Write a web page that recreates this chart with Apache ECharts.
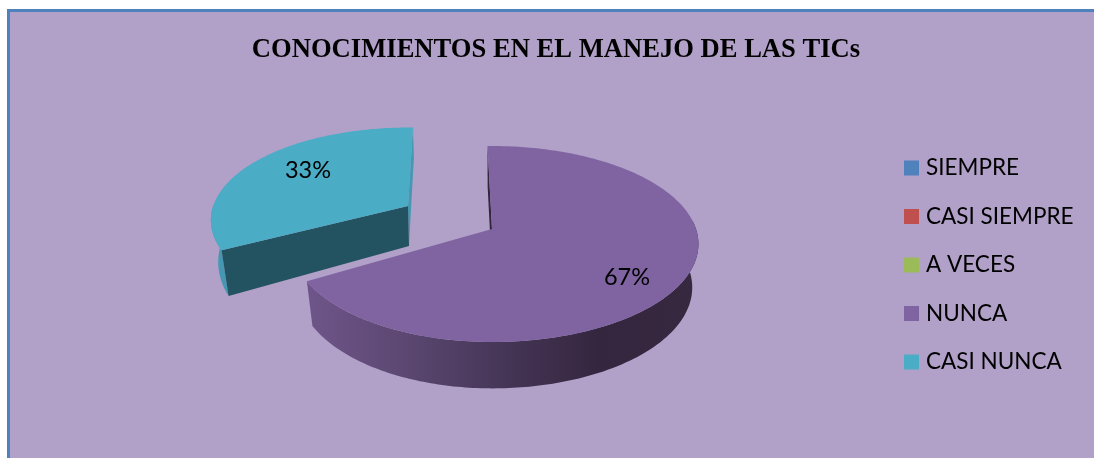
<!DOCTYPE html>
<html><head><meta charset="utf-8">
<style>html,body{margin:0;padding:0;background:#fff}#c{width:1094px;height:458px}</style>
<script src="https://cdn.jsdelivr.net/npm/echarts@6/dist/echarts.min.js"></script>
</head><body><div id="c"></div>
<script>
const categories = ['SIEMPRE','CASI SIEMPRE','A VECES','NUNCA','CASI NUNCA'];
const values = [0,0,0,67,33];
const colors = ['#4F81BD','#C0504D','#9BBB59','#8064A2','#4BACC6'];
const titleText = 'CONOCIMIENTOS EN EL MANEJO DE LAS TICs';

const total = values.reduce((a,b)=>a+b,0);
const P = 0.153, F = 204, G = 95.7;
const layouts = {
  'NUNCA': {ax:492, ay:229, s:1, tsx:1, left:.97, rot:-1.5, bx:492, by:272, bsx:.97, bsy:1.03, from:85, lab:[627,277],
    inner:'#35263F',
    outer:new echarts.graphic.LinearGradient(311,0,690,0,[
      {offset:0,color:'#6E5589'},{offset:.24,color:'#5C4872'},{offset:.5,color:'#463657'},
      {offset:.76,color:'#35263F'},{offset:1,color:'#36283F'}],true)},
  'CASI NUNCA': {ax:408, ay:206, s:.945, tsx:.955, left:1, rot:1.7, bx:409, by:246, bsx:.945*.978, bsy:.945*1.13, to:272, lab:[308,170],
    inner:'#235260', outer:'#4697B1'}
};
function proj(deg, cx, cy, sx, sy, left){
  const t = deg*Math.PI/180, w = 1+P*Math.cos(t), sn = Math.sin(t);
  return [cx+F*sx*sn*(sn<0?left:1)/w, cy-G*sy*Math.cos(t)/w];
}
function arc(a,b,cx,cy,sx,sy,left){
  const pts=[], n=Math.max(2,Math.ceil(Math.abs(b-a)));
  for(let i=0;i<=n;i++) pts.push(proj(a+(b-a)*i/n,cx,cy,sx,sy,left));
  return pts;
}
function startOf(idx){ let s=0; for(let i=0;i<idx;i++) s+=values[i]; return s/total*360; }

function renderSlice(idx,name){
  return function(params,api){
    const v = api.value(0);
    if(!v) return null;
    const L = layouts[name];
    const a = startOf(idx)+L.rot, b = a+v/total*360;
    const tx=L.tsx, ty=L.s, bx=L.bsx, by=L.bsy, lf=L.left;
    const kids=[];
    const poly=(points,fill)=>kids.push({type:'polygon',shape:{points},style:{fill,stroke:null},silent:true});
    const topAt=d=>proj(d,L.ax,L.ay,tx,ty,lf), botAt=d=>proj(d,L.bx,L.by,bx,by,lf);
    if(name==='NUNCA'){
      poly([[L.ax,L.ay],topAt(a),botAt(a),[L.bx,L.by]],L.inner);
      poly(arc(L.from,b,L.ax,L.ay,tx,ty,lf).concat(arc(b,L.from,L.bx,L.by,bx,by,lf)),L.outer);
    } else {
      poly([[L.ax,L.ay],topAt(b),botAt(b),[L.bx,L.by]],L.outer);
      poly(arc(a,L.to,L.ax,L.ay,tx,ty,lf).concat(arc(L.to,a,L.bx,L.by,bx,by,lf)),L.outer);
      poly([[L.ax,L.ay],topAt(a),botAt(a),[L.bx,L.by]],L.inner);
    }
    poly([[L.ax,L.ay]].concat(arc(a,b,L.ax,L.ay,tx,ty,lf)),colors[idx]);
    kids.push({type:'text',x:L.lab[0],y:L.lab[1],silent:true,style:{
      text:Math.round(v/total*100)+'%',fill:'#000',font:'23.5px Lato',align:'center',verticalAlign:'middle'}});
    return {type:'group',children:kids};
  };
}

const chart = echarts.init(document.getElementById('c'),null,{renderer:'canvas'});
chart.setOption({
  animation:false,
  backgroundColor:'#fff',
  graphic:[{type:'rect',z:-10,silent:true,shape:{x:8.5,y:10.5,width:1200,height:600},
    style:{fill:'#B1A0C7',stroke:'#4F81BD',lineWidth:3}}],
  title:{text:titleText,left:556,top:32,textAlign:'center',
    textStyle:{fontFamily:'Liberation Serif',fontWeight:'bold',fontSize:26.6,color:'#000'}},
  legend:{orient:'vertical',left:904,top:156,padding:0,itemWidth:15,itemHeight:15,itemGap:24.5,
    data:categories.map(name=>({name,icon:'rect'})),
    selectedMode:false,
    textStyle:{fontFamily:'Lato',fontSize:22.5,color:'#000',padding:[0,0,0,2],lineHeight:24}},
  series:categories.map((name,i)=>({
    name,type:'custom',coordinateSystem:'none',
    itemStyle:{color:colors[i]},
    renderItem:renderSlice(i,name),
    data:[[values[i]]],
    silent:true
  }))
});
// measured title placement: the rendered block is centred on the reference's title
chart.setOption({title:{left:551}});
</script></body></html>
